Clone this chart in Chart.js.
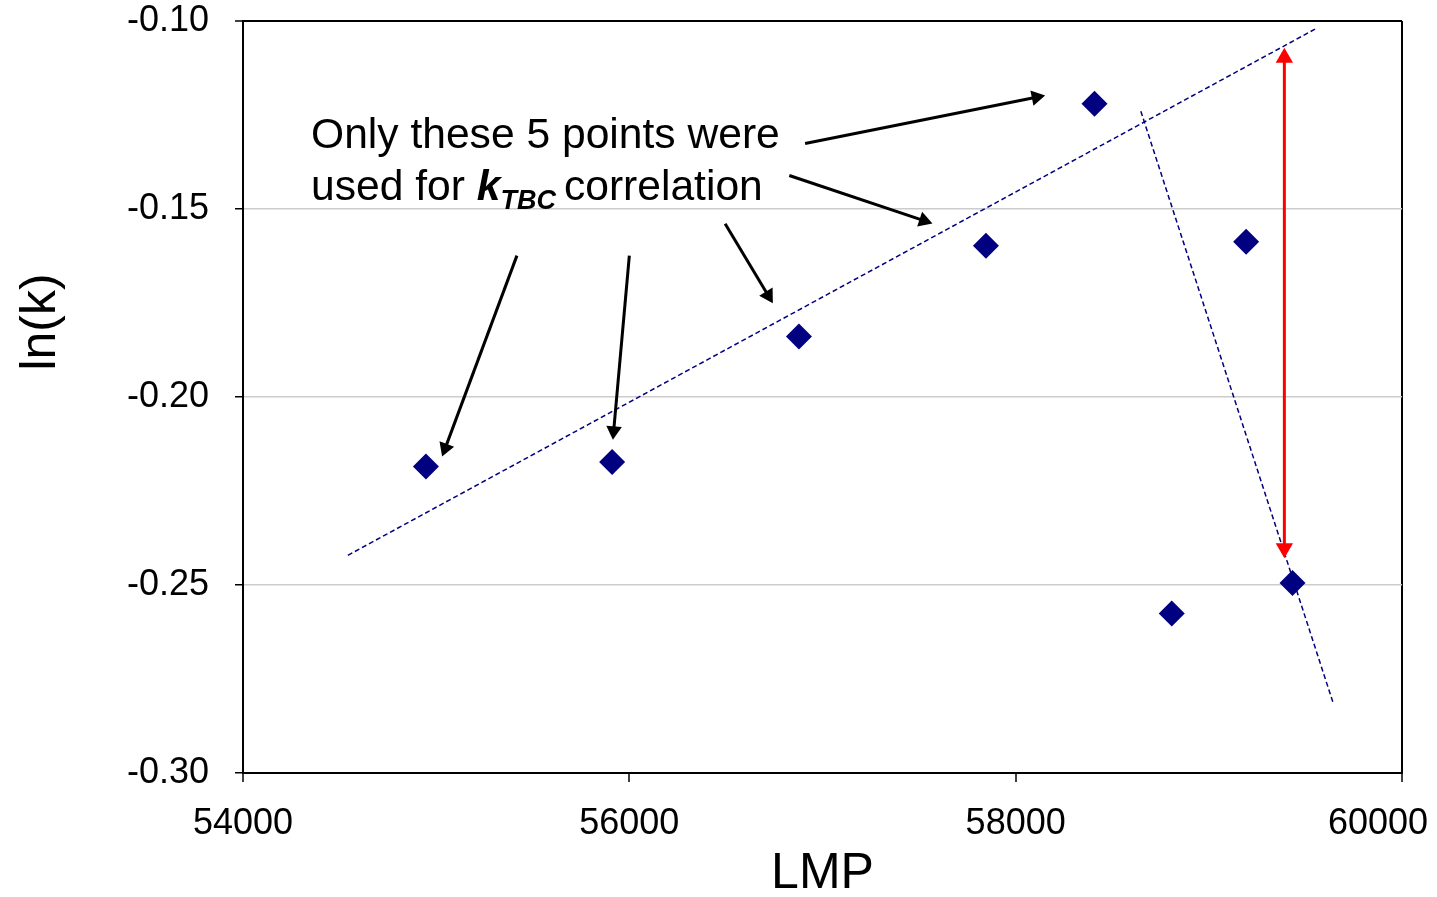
<!DOCTYPE html>
<html>
<head>
<meta charset="utf-8">
<title>ln(k) vs LMP</title>
<script src="https://cdn.jsdelivr.net/npm/chart.js@4.4.1/dist/chart.umd.min.js"></script>
<style>
  html, body { margin: 0; padding: 0; background: #fff; }
  #wrap { width: 1437px; height: 897px; position: relative; }
</style>
</head>
<body>
<div id="wrap"><canvas id="lmpChart"></canvas></div>
<script>
// measured points (LMP, ln(k))
const lmp  = [54947, 55911, 56878, 57846, 58408, 58808, 59193, 59433];
const lnK  = [-0.2185, -0.2173, -0.1839, -0.1598, -0.1220, -0.2576, -0.1587, -0.2495];

// dashed trend lines, [start, end]
const trendA = [{ x: 54543, y: -0.2421 }, { x: 59559, y: -0.1019 }];
const trendB = [{ x: 58648, y: -0.1240 }, { x: 59645, y: -0.2816 }];

// red double arrow (head centres)
const gapArrow = [{ x: 59391, y: -0.1098 }, { x: 59391, y: -0.2402 }];

// black pointer arrows: tail, head centre
const pointers = [
  [{ x: 56910, y: -0.1326 }, { x: 58107, y: -0.1203 }],
  [{ x: 56828, y: -0.1411 }, { x: 57525, y: -0.1531 }],
  [{ x: 56496, y: -0.1539 }, { x: 56719, y: -0.1730 }],
  [{ x: 56000, y: -0.1624 }, { x: 55919, y: -0.2090 }],
  [{ x: 55418, y: -0.1624 }, { x: 55047, y: -0.2136 }]
];

const xMin = 54000, xMax = 60000, xStep = 2000;
const yMin = -0.30, yMax = -0.10, yStep = 0.05;

const xTitle = 'LMP';
const yTitle = 'ln(k)';
const noteLine1 = 'Only these 5 points were';
const noteLine2 = ['used for ', 'k', 'TBC', 'correlation'];

const FONT = '"Liberation Sans", Arial, sans-serif';
Chart.defaults.font.family = FONT;
Chart.defaults.color = '#000';

const NAVY = '#000080';

// rotate a triangle head so it points away from the other end of its line
function headRotation(c) {
  const data = c.dataset.data;
  const i = c.dataIndex;
  const p = data[i], q = data[i === 0 ? 1 : 0];
  const xs = c.chart.scales.x, ys = c.chart.scales.y;
  const dx = xs.getPixelForValue(p.x) - xs.getPixelForValue(q.x);
  const dy = ys.getPixelForValue(p.y) - ys.getPixelForValue(q.y);
  return Math.atan2(dx, -dy) * 180 / Math.PI;
}

const near = (a, b) => Math.abs(a - b) < 1e-9;

const datasets = [
  {
    label: 'ln(k)',
    data: lmp.map((x, i) => ({ x: x, y: lnK[i] })),
    pointStyle: 'rectRot',
    pointRadius: 13,
    pointBackgroundColor: NAVY,
    pointBorderWidth: 0,
    showLine: false
  },
  {
    label: 'red arrow',
    data: gapArrow,
    showLine: true,
    borderColor: '#ff0000',
    borderWidth: 3,
    pointStyle: 'triangle',
    pointRadius: 10,
    pointBackgroundColor: '#ff0000',
    pointBorderWidth: 0,
    pointRotation: headRotation
  }
];

pointers.forEach((seg, k) => {
  datasets.push({
    label: 'pointer ' + (k + 1),
    data: seg,
    showLine: true,
    borderColor: '#000',
    borderWidth: 3,
    pointStyle: 'triangle',
    pointRadius: (c) => c.dataIndex === 1 ? 9 : 0,
    pointBackgroundColor: '#000',
    pointBorderWidth: 0,
    pointRotation: headRotation
  });
});

[trendA, trendB].forEach((seg, k) => {
  datasets.push({
    label: 'trend ' + (k + 1),
    data: seg,
    showLine: true,
    borderColor: NAVY,
    borderWidth: 1.5,
    borderDash: [5, 3],
    pointRadius: 0
  });
});

// y title and the note text
const textLayer = {
  id: 'textLayer',
  afterDatasetsDraw(chart) {
    const { ctx, chartArea: a } = chart;
    ctx.save();
    ctx.fillStyle = '#000';
    ctx.textBaseline = 'alphabetic';

    // note
    ctx.textAlign = 'left';
    const x0 = a.left + 68;
    const b1 = a.top + 127;
    const b2 = a.top + 179;
    ctx.font = '42.6px ' + FONT;
    ctx.fillText(noteLine1, x0, b1);
    let x = x0;
    ctx.fillText(noteLine2[0], x, b2);
    x += ctx.measureText(noteLine2[0]).width;
    ctx.font = 'italic bold 42.6px ' + FONT;
    ctx.fillText(noteLine2[1], x, b2);
    x += ctx.measureText(noteLine2[1]).width;
    ctx.font = 'italic bold 27px ' + FONT;
    ctx.fillText(noteLine2[2], x, b2 + 9);
    x += ctx.measureText(noteLine2[2]).width + 8;
    ctx.font = '42.6px ' + FONT;
    ctx.fillText(noteLine2[3], x, b2);
    ctx.restore();

    // y axis title
    ctx.save();
    ctx.translate(55, 322);
    ctx.rotate(-Math.PI / 2);
    ctx.textAlign = 'center';
    ctx.font = '50px ' + FONT;
    ctx.fillStyle = '#000';
    ctx.fillText(yTitle, 0, 0);
    ctx.restore();
  }
};

// pull the last x label back inside the canvas
const lastLabelShift = {
  id: 'lastLabelShift',
  beforeDraw(chart) {
    const items = chart.scales.x.getLabelItems();
    const last = items[items.length - 1];
    if (last && !last._shifted && last.options && last.options.translation) {
      last.options.translation[0] -= 24;
      last._shifted = true;
    }
  }
};

new Chart(document.getElementById('lmpChart'), {
  type: 'scatter',
  data: { datasets: datasets },
  options: {
    responsive: true,
    maintainAspectRatio: false,
    animation: false,
    events: [],
    layout: { padding: { top: 21, right: 35, left: 0, bottom: 0 } },
    plugins: {
      legend: { display: false },
      tooltip: { enabled: false }
    },
    scales: {
      x: {
        type: 'linear',
        min: xMin,
        max: xMax,
        afterFit(s) { s.height = 124; s.paddingLeft = 0; s.paddingRight = 0; },
        ticks: {
          stepSize: xStep,
          font: { size: 36 },
          padding: 20,
          maxRotation: 0,
          callback: (v) => String(v)
        },
        grid: {
          color: (c) => near(c.tick.value, xMax) ? '#000' : 'rgba(0,0,0,0)',
          lineWidth: 2,
          tickColor: '#000',
          tickWidth: 1.5,
          tickLength: 9
        },
        border: { color: '#000', width: 2 },
        title: {
          display: true,
          text: xTitle,
          font: { size: 50, lineHeight: 1 },
          padding: { top: 0, bottom: -2 }
        }
      },
      y: {
        type: 'linear',
        min: yMin,
        max: yMax,
        afterFit(s) { s.width = 243; s.paddingTop = 0; s.paddingBottom = 0; },
        ticks: {
          stepSize: yStep,
          font: { size: 36 },
          padding: 26,
          callback: (v) => Number(v).toFixed(2)
        },
        grid: {
          color: (c) => {
            const v = c.tick.value;
            if (near(v, yMax)) return '#000';
            if (near(v, yMin)) return 'rgba(0,0,0,0)';
            return '#cccccc';
          },
          lineWidth: (c) => near(c.tick.value, yMax) ? 2 : 1.5,
          tickColor: '#000',
          tickWidth: 1.5,
          tickLength: 8
        },
        border: { color: '#000', width: 2 }
      }
    }
  },
  plugins: [textLayer, lastLabelShift]
});
</script>
</body>
</html>
